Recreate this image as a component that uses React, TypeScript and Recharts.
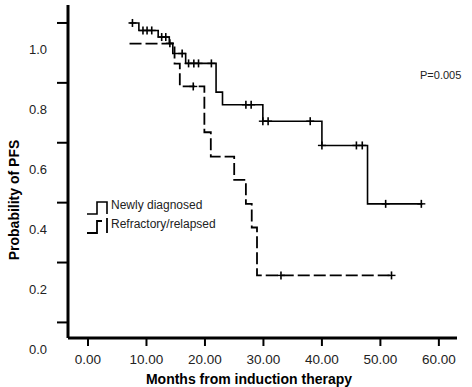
import React from "react";
import { ComposedChart, Line, XAxis, YAxis } from "recharts";

// Kaplan-Meier step points (months, survival)
const newlyTime = [7.1, 8.7, 12.0, 13.9, 14.5, 16.7, 21.9, 23.0, 29.9, 40.0, 47.8, 57.2];
const newlySurv = [1.0, 0.975, 0.953, 0.932, 0.898, 0.865, 0.769, 0.727, 0.672, 0.591, 0.396, 0.396];

const refTime = [7.1, 14.8, 15.7, 19.9, 21.0, 25.0, 27.0, 28.0, 28.9, 52.1];
const refSurv = [0.931, 0.864, 0.788, 0.635, 0.554, 0.476, 0.396, 0.317, 0.157, 0.157];

// censored observations
const newlyCensorTime = [7.6, 9.4, 10.1, 10.9, 12.6, 13.3, 14.0, 16.1, 17.2, 18.1, 18.9, 21.1, 27.0, 27.9, 29.9, 30.8, 38.0, 40.0, 45.9, 46.9, 50.9, 57.0];
const newlyCensorSurv = [1.0, 0.975, 0.975, 0.975, 0.953, 0.953, 0.932, 0.898, 0.865, 0.865, 0.865, 0.865, 0.727, 0.727, 0.672, 0.672, 0.672, 0.591, 0.591, 0.591, 0.396, 0.396];

const refCensorTime = [18.0, 33.0, 51.9];
const refCensorSurv = [0.788, 0.157, 0.157];

const xTicks = [0, 10, 20, 30, 40, 50, 60];
const yTicks = [0, 0.2, 0.4, 0.6, 0.8, 1.0];

const legendLabels = ["Newly diagnosed", "Refractory/relapsed"];
const pValue = "P=0.005";

const FONT = "'Liberation Sans', Arial, Helvetica, sans-serif";

const zip = (t: number[], s: number[]) => t.map((v, i) => ({ t: v, s: s[i] }));

const newlyData = zip(newlyTime, newlySurv);
const refData = zip(refTime, refSurv);
const newlyCensor = zip(newlyCensorTime, newlyCensorSurv);
const refCensor = zip(refCensorTime, refCensorSurv);

const Cross = (props: any) => {
  const { cx, cy } = props;
  if (cx == null || cy == null) return null;
  return (
    <g>
      <line x1={cx - 4} x2={cx + 4} y1={cy} y2={cy} stroke="#000" strokeWidth={1.4} />
      <line x1={cx} x2={cx} y1={cy - 4} y2={cy + 4} stroke="#000" strokeWidth={1.6} />
    </g>
  );
};

// y labels sit a bit below their tick marks in the original figure
const YTick = (props: any) => {
  const { y, payload } = props;
  return (
    <text x={47} y={y + 27} textAnchor="end" dominantBaseline="central" fontSize={13} fill="#222" fontFamily={FONT}>
      {Number(payload.value).toFixed(1)}
    </text>
  );
};

const XTick = (props: any) => {
  const { x, payload } = props;
  return (
    <text x={x} y={359} textAnchor="middle" dominantBaseline="central" fontSize={13.5} fill="#222" fontFamily={FONT}>
      {Number(payload.value).toFixed(2)}
    </text>
  );
};

export default function App() {
  return (
    <div style={{ position: "relative", width: 472, height: 387, background: "#fff" }}>
      <style>{"body{margin:0}"}</style>
      <ComposedChart width={472} height={387} margin={{ top: 5, right: 15, left: 0, bottom: 0 }}>
        <XAxis
          dataKey="t"
          type="number"
          domain={[-3.42, 63.1]}
          allowDataOverflow
          ticks={xTicks}
          height={49}
          tickSize={8}
          axisLine={{ stroke: "#000", strokeWidth: 3 }}
          tickLine={{ stroke: "#000", strokeWidth: 2 }}
          tick={<XTick />}
        />
        <YAxis
          type="number"
          domain={[-0.052, 1.06]}
          allowDataOverflow
          ticks={yTicks}
          width={68}
          tickSize={11}
          axisLine={{ stroke: "#000", strokeWidth: 3 }}
          tickLine={{ stroke: "#000", strokeWidth: 2 }}
          tick={<YTick />}
        />
        <Line data={newlyData} dataKey="s" type="stepAfter" stroke="#000" strokeWidth={1.6} dot={false} activeDot={false} isAnimationActive={false} />
        <Line data={refData} dataKey="s" type="stepAfter" stroke="#000" strokeWidth={1.8} strokeDasharray="12 4" dot={false} activeDot={false} isAnimationActive={false} />
        <Line data={newlyCensor} dataKey="s" stroke="none" dot={<Cross />} activeDot={false} isAnimationActive={false} />
        <Line data={refCensor} dataKey="s" stroke="none" dot={<Cross />} activeDot={false} isAnimationActive={false} />
      </ComposedChart>
      <svg width={472} height={387} style={{ position: "absolute", left: 0, top: 0, pointerEvents: "none" }}>
        <text transform="translate(14,200) rotate(-90)" textAnchor="middle" dominantBaseline="central" fontSize={14} fontWeight="bold" fill="#000" fontFamily={FONT}>
          Probability of PFS
        </text>
        <text x={249} y={379} textAnchor="middle" dominantBaseline="central" fontSize={14} fontWeight="bold" fill="#000" fontFamily={FONT}>
          Months from induction therapy
        </text>
        <text x={420} y={75} dominantBaseline="central" fontSize={11} fill="#222" fontFamily={FONT}>
          {pValue}
        </text>
        <path d="M87,214 H97 V202 H107 V214" fill="none" stroke="#000" strokeWidth={1.6} />
        <path d="M87,233 H97 V221 H102" fill="none" stroke="#000" strokeWidth={1.8} />
        <path d="M107,218 V233" fill="none" stroke="#000" strokeWidth={1.8} />
        <text x={111} y={205} dominantBaseline="central" fontSize={12} fill="#222" fontFamily={FONT}>
          {legendLabels[0]}
        </text>
        <text x={111} y={224} dominantBaseline="central" fontSize={12} fill="#222" fontFamily={FONT}>
          {legendLabels[1]}
        </text>
      </svg>
    </div>
  );
}
